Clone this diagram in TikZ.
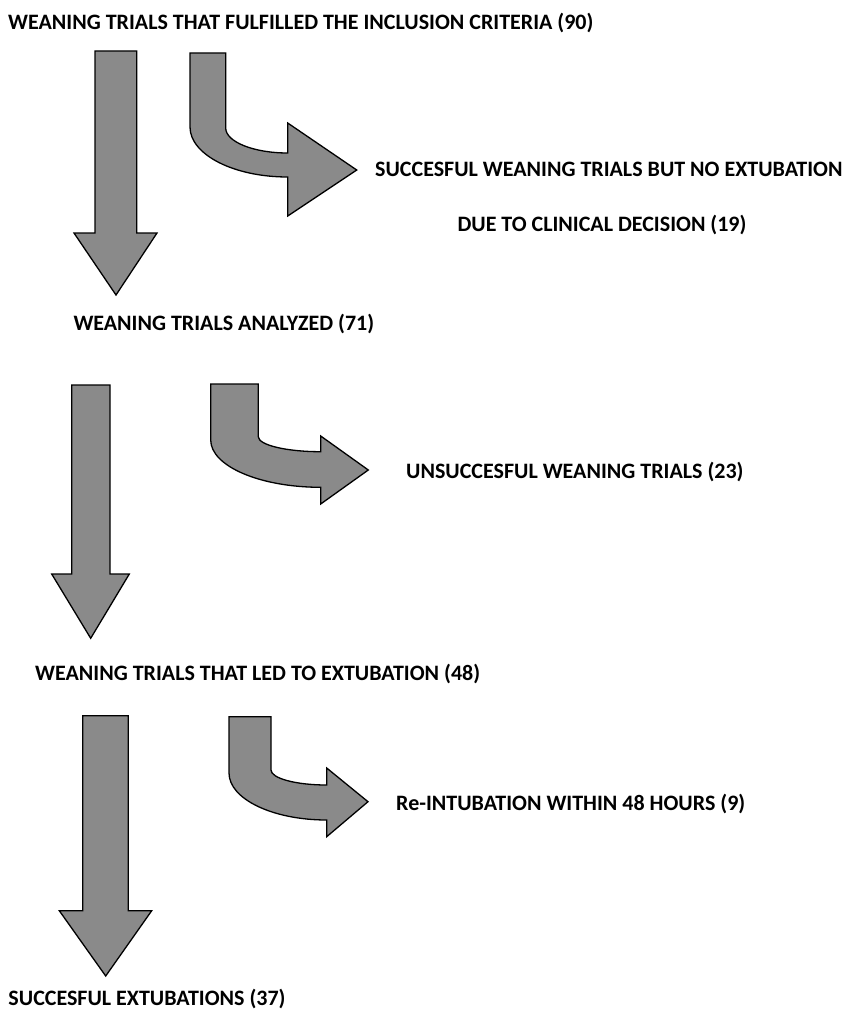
\documentclass[tikz,border=0pt]{standalone}
\usepackage{fontspec}
\setmainfont{Carlito}
\definecolor{arrowgray}{RGB}{138,138,138}
\begin{document}
\begin{tikzpicture}[x=1pt,y=-1pt,
blockarrow/.style={fill=arrowgray,draw=black,line width=1.3pt},
lbl/.style={anchor=base west,inner sep=0pt,font=\bfseries\fontsize{22}{26}\selectfont}]
\useasboundingbox(0,0)rectangle(851,1019);
\node[lbl](included)at(8,29.5){WEANING TRIALS THAT FULFILLED THE INCLUSION CRITERIA (90)};
\node[lbl](noextub)at(375,176.7){SUCCESFUL WEANING TRIALS BUT NO EXTUBATION};
\node[lbl,anchor=base](decision)at(602,231.7){DUE TO CLINICAL DECISION (19)};
\node[lbl](analyzed)at(73.3,330){WEANING TRIALS ANALYZED (71)};
\node[lbl](unsucc)at(406,478.3){UNSUCCESFUL WEANING TRIALS (23)};
\node[lbl](extub)at(35,680){WEANING TRIALS THAT LED TO EXTUBATION (48)};
\node[lbl](reintub)at(396,810){Re-INTUBATION WITHIN 48 HOURS (9)};
\node[lbl](succ)at(8.3,1005){SUCCESFUL EXTUBATIONS (37)};
\begin{scope}[line join=miter]
\draw[blockarrow](95,51)--(95,233)--(74,233)--(116,295)--(157,233)--(136.7,233)--(136.7,51)--cycle;
\draw[blockarrow](190,53)--(190,127)..controls+(0,27.6)and+(-54,0)..(287.7,177)--(287.7,216)--(356.7,170)--(287.7,123)--(287.7,153)..controls+(-34.2,0)and+(0,13.8)..(225.7,128)--(225.7,53)--cycle;
\end{scope}
\begin{scope}[line join=miter]
\draw[blockarrow](71.7,385)--(71.7,574)--(51.7,574)--(90.7,638.3)--(129.3,574)--(110,574)--(110,385)--cycle;
\draw[blockarrow](210.7,384)--(210.7,440)..controls+(0,26.1)and+(-60.8,0)..(320.7,487.3)--(320.7,504)--(368.3,470)--(320.7,436)--(320.7,451.7)..controls+(-34.5,0)and+(0,8.3)..(258.3,436.7)--(258.3,384)--cycle;
\end{scope}
\begin{scope}[line join=miter]
\draw[blockarrow](82.7,715.7)--(82.7,910.7)--(59.3,910.7)--(105.7,976)--(151.7,910.7)--(128.3,910.7)--(128.3,715.7)--cycle;
\draw[blockarrow](229,716.7)--(229,773)..controls+(0,26)and+(-54,0)..(326.7,820)--(326.7,836.7)--(368,801.7)--(326.7,768)--(326.7,785)..controls+(-30.8,0)and+(0,8.3)..(271,770)--(271,716.7)--cycle;
\end{scope}
\end{tikzpicture}
\end{document}
